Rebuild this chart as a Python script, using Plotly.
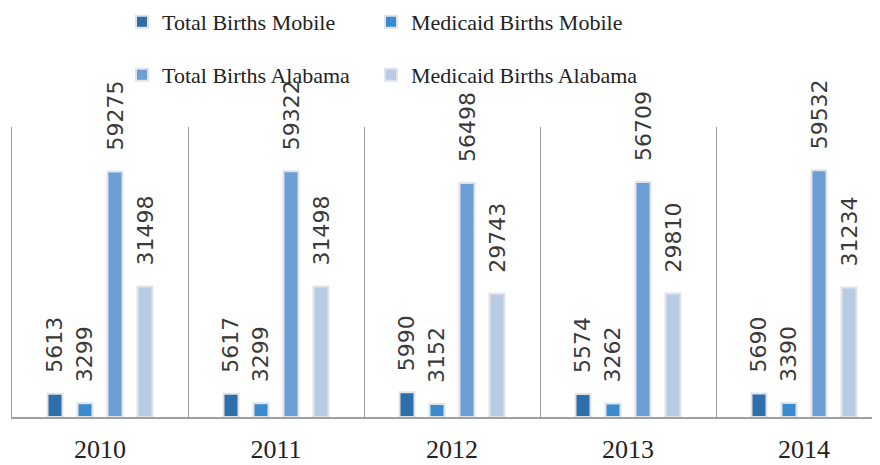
import plotly.graph_objects as go

years = ["2010", "2011", "2012", "2013", "2014"]
total_mobile = [5613, 5617, 5990, 5574, 5690]
medicaid_mobile = [3299, 3299, 3152, 3262, 3390]
total_alabama = [59275, 59322, 56498, 56709, 59532]
medicaid_alabama = [31498, 31498, 29743, 29810, 31234]

series = [
    ("Total Births Mobile", total_mobile, "#2f6eaa", "legend", 114, 14),
    ("Medicaid Births Mobile", medicaid_mobile, "#3a8bcd", "legend2", 363, 14),
    ("Total Births Alabama", total_alabama, "#6c9dd3", "legend3", 114, 67),
    ("Medicaid Births Alabama", medicaid_alabama, "#b9cbe3", "legend4", 363, 67),
]

fig = go.Figure()
legends = {}
for name, vals, color, lg, lx, ly in series:
    fig.add_trace(go.Bar(
        name=name, x=years, y=vals,
        marker=dict(color=color, line=dict(color="#dfe4eb", width=2)),
        text=["\u2002\u00a0" + str(v) for v in vals],
        textposition="outside", textangle=-90,
        constraintext="none", cliponaxis=False,
        textfont=dict(family="DejaVu Sans", size=22, color="#3a3a3a"),
        legend=lg,
    ))
    legends[lg] = dict(
        orientation="h", xref="container", yref="container",
        xanchor="left", yanchor="middle",
        x=lx / 880, y=1 - ly / 465,
        font=dict(family="Liberation Serif", size=22, color="#222222"),
        bgcolor="rgba(0,0,0,0)", borderwidth=0,
    )

fig.update_layout(
    width=880, height=465,
    margin=dict(l=4, r=0, t=119, b=56, autoexpand=False),
    paper_bgcolor="white", plot_bgcolor="white",
    barmode="group", bargap=0.318, bargroupgap=0.5,
    showlegend=True,
    xaxis=dict(
        type="category", range=[-0.5, -0.5 + 876 / 176],
        tickson="boundaries", ticks="", showgrid=True,
        gridcolor="#9a9a9a", gridwidth=1,
        showline=True, linecolor="#a0a0a0", linewidth=1.5,
        tickfont=dict(family="Liberation Serif", size=26, color="#222222"),
        ticklabelstandoff=8,
    ),
    yaxis=dict(
        range=[0, 70000], showgrid=False, showticklabels=False,
        zeroline=False, showline=True, linecolor="#9a9a9a", linewidth=1,
    ),
    **legends,
)

fig.write_html("out.html")
